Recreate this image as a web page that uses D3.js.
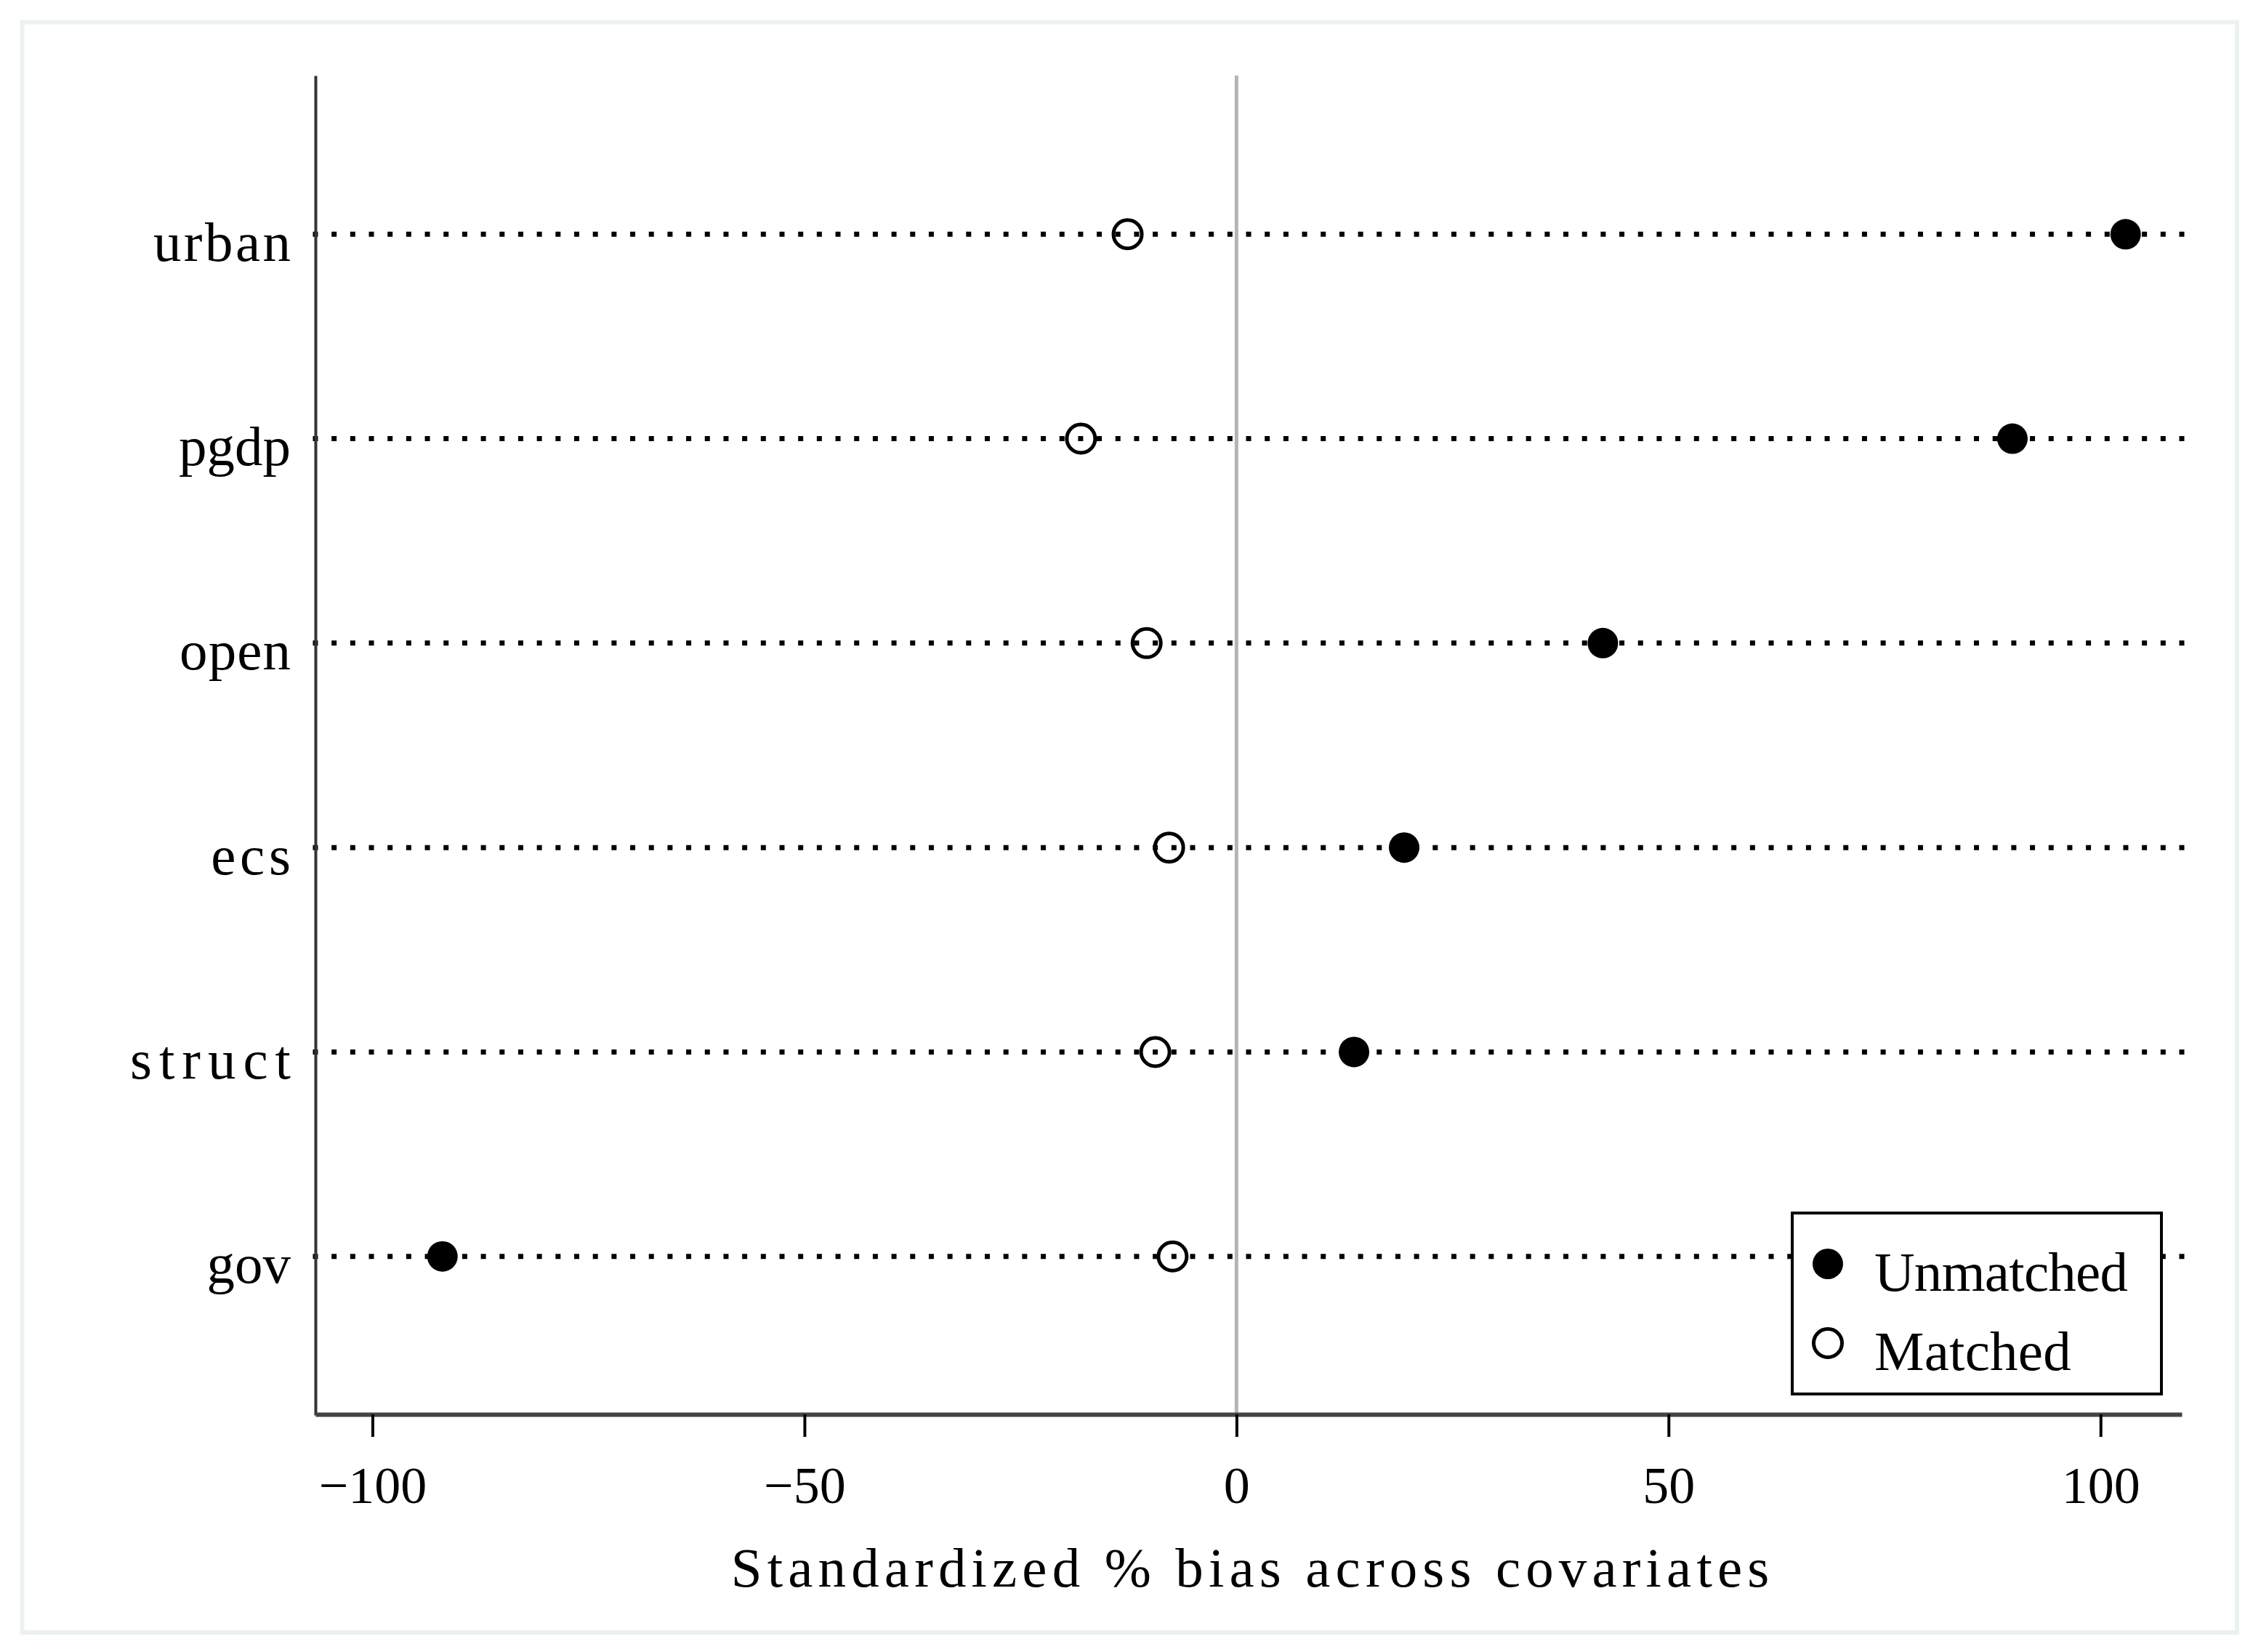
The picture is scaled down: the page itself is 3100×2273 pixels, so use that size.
<!DOCTYPE html>
<html>
<head>
<meta charset="utf-8">
<script src="https://cdn.jsdelivr.net/npm/d3@7"></script>
<style>
  html, body { margin: 0; padding: 0; background: #fff; }
  svg { display: block; }
  text { font-family: "Liberation Serif", "Times New Roman", serif; fill: #000; }
</style>
</head>
<body>
<div class="vis"></div>
<script>
const categories = ["urban", "pgdp", "open", "ecs", "struct", "gov"];
const unmatched = [102.9, 89.8, 42.4, 19.4, 13.6, -91.9];
const matched = [-12.6, -18.0, -10.4, -7.8, -9.4, -7.4];
const xTicks = [-100, -50, 0, 50, 100];
const xTitle = "Standardized % bias across covariates";
const legendLabels = ["Unmatched", "Matched"];

const W = 3100, H = 2273;
const plot = { left: 434, right: 3002, top: 104, bottom: 1947 };

// stretch proportional serif glyphs to the half-width cells of the original font
const monoText = (sel, cell, anchor) => {
  sel.each(function () {
    const t = d3.select(this);
    t.attr("letter-spacing", 0);
    const n = this.textContent.length;
    const ls = (n * cell - this.getComputedTextLength()) / n;
    t.attr("letter-spacing", ls);
    const shift = anchor === "end" ? ls : anchor === "middle" ? ls / 2 : 0;
    t.attr("transform", "translate(" + shift + ",0)");
  });
};

const svg = d3
  .select(".vis")
  .append("svg")
  .attr("width", W)
  .attr("height", H);

svg.append("rect").attr("width", W).attr("height", H).attr("fill", "#fff");

// outer frame
svg
  .append("rect")
  .attr("x", 30.5)
  .attr("y", 30.5)
  .attr("width", 3047.5)
  .attr("height", 2215.5)
  .attr("fill", "none")
  .attr("stroke", "#ebf1f2")
  .attr("stroke-width", 6);

const x = d3.scaleLinear().domain([-106.6, 109.4]).range([plot.left, plot.right]);
const y = d3
  .scalePoint()
  .domain(categories)
  .range([plot.top, plot.bottom])
  .padding(0.776);

// zero reference line
svg
  .append("line")
  .attr("x1", x(0))
  .attr("x2", x(0))
  .attr("y1", plot.top)
  .attr("y2", plot.bottom)
  .attr("stroke", "#b4b4b4")
  .attr("stroke-width", 5);

// dotted guide lines
svg
  .selectAll(".guide")
  .data(categories)
  .enter()
  .append("line")
  .attr("class", "guide")
  .attr("x1", x.range()[0] - 3.5)
  .attr("x2", x.range()[1] + 3.5)
  .attr("y1", (d) => y(d))
  .attr("y2", (d) => y(d))
  .attr("stroke", "#000")
  .attr("stroke-width", 7)
  .attr("stroke-dasharray", "7 18.68");

// y axis
const gy = svg
  .append("g")
  .attr("transform", "translate(" + plot.left + ",0)")
  .call(d3.axisLeft(y).tickSize(0).tickSizeOuter(0));
gy.select(".domain").attr("stroke", "#333").attr("stroke-width", 4);
gy.selectAll(".tick text")
  .attr("font-size", 77)
  .attr("font-family", null)
  .attr("fill", "#000")
  .attr("x", -34)
  .attr("dy", 36)
  .attr("text-anchor", "end")
  .call(monoText, 38.5, "end");

// x axis
const gx = svg
  .append("g")
  .attr("transform", "translate(0," + 1946 + ")")
  .call(d3.axisBottom(x).tickValues(xTicks).tickSize(31).tickSizeOuter(0));
gx.select(".domain").attr("stroke", "#444").attr("stroke-width", 6);
gx.selectAll(".tick line").attr("stroke", "#000").attr("stroke-width", 4);
gx.selectAll(".tick text")
  .attr("font-size", 72)
  .attr("font-family", null)
  .attr("fill", "#000")
  .attr("y", 122)
  .attr("dy", null);

svg
  .append("text")
  .attr("x", (plot.left + plot.right) / 2 + 2)
  .attr("y", 2183)
  .attr("text-anchor", "middle")
  .attr("font-size", 77)
  .text(xTitle)
  .call(monoText, 38.8, "middle");

// markers
svg
  .selectAll(".unm")
  .data(unmatched)
  .enter()
  .append("circle")
  .attr("class", "unm")
  .attr("cx", (d) => x(d))
  .attr("cy", (d, i) => y(categories[i]))
  .attr("r", 21)
  .attr("fill", "#000");

svg
  .selectAll(".mat")
  .data(matched)
  .enter()
  .append("circle")
  .attr("class", "mat")
  .attr("cx", (d) => x(d))
  .attr("cy", (d, i) => y(categories[i]))
  .attr("r", 19.5)
  .attr("fill", "none")
  .attr("stroke", "#000")
  .attr("stroke-width", 5);

// legend
const lg = svg.append("g").attr("transform", "translate(2466,1669)");
lg.append("rect")
  .attr("width", 508)
  .attr("height", 249)
  .attr("fill", "#fff")
  .attr("stroke", "#000")
  .attr("stroke-width", 4);

const items = lg
  .selectAll(".item")
  .data(legendLabels)
  .enter()
  .append("g")
  .attr("class", "item")
  .attr("transform", (d, i) => "translate(49," + (70 + i * 109) + ")");

items
  .append("circle")
  .attr("r", (d, i) => (i === 0 ? 21 : 19.5))
  .attr("fill", (d, i) => (i === 0 ? "#000" : "none"))
  .attr("stroke", (d, i) => (i === 0 ? "none" : "#000"))
  .attr("stroke-width", 5);

items
  .append("text")
  .attr("x", 64)
  .attr("y", 37)
  .attr("font-size", 77)
  .text((d) => d)
  .call(monoText, 38.7, "start");
</script>
</body>
</html>
